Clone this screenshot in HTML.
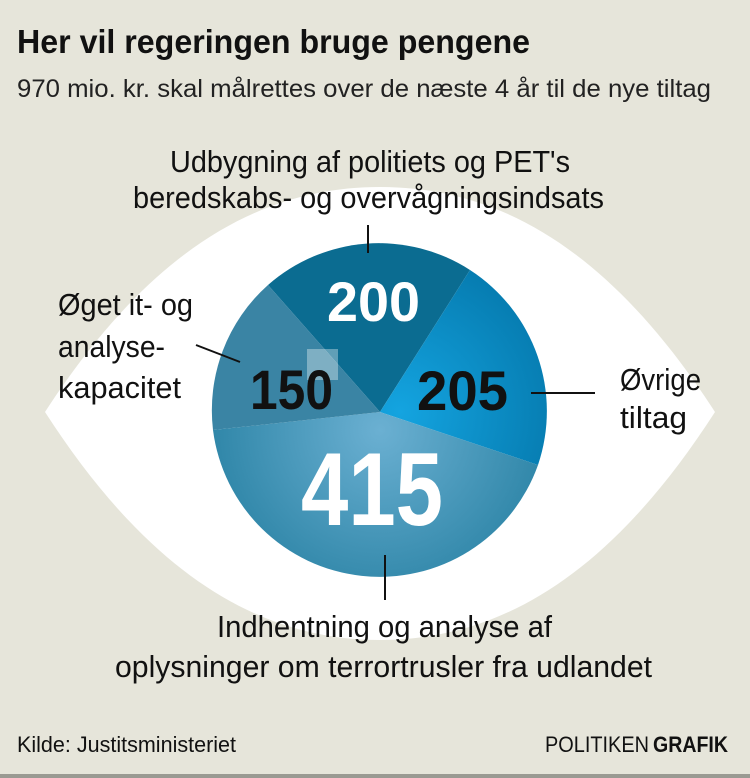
<!DOCTYPE html>
<html><head><meta charset="utf-8"><style>
html,body{margin:0;padding:0;background:#e6e5da;}
svg{display:block}
text{font-family:"Liberation Sans",sans-serif;}
</style></head><body>
<svg width="750" height="778" viewBox="0 0 750 778" xmlns="http://www.w3.org/2000/svg">
<defs>
<radialGradient id="g415" cx="380" cy="430" r="170" gradientUnits="userSpaceOnUse">
<stop offset="0" stop-color="#6bb0d2"/><stop offset="1" stop-color="#2f86a8"/></radialGradient>
<radialGradient id="g205" cx="400" cy="412" r="170" gradientUnits="userSpaceOnUse">
<stop offset="0" stop-color="#14a4e0"/><stop offset="1" stop-color="#0579ad"/></radialGradient>
</defs>
<rect width="750" height="778" fill="#e6e5da"/>
<rect x="0" y="774" width="750" height="4" fill="#9a9a92"/>
<path d="M45,412 C150,250 260,187 380,187 C500,187 610,250 715,412 C610,575 500,640 380,640 C260,640 150,575 45,412 Z" fill="#ffffff"/>
<path d="M380,412 L268,285 A168,168 0 0 1 470,270 Z" fill="#0b6c91"/>
<path d="M380,412 L470,270 A168,168 0 0 1 538,465 Z" fill="url(#g205)"/>
<path d="M380,412 L538,465 A168,168 0 0 1 213,430 Z" fill="url(#g415)"/>
<path d="M380,412 L213,430 A168,168 0 0 1 268,285 Z" fill="#3a84a4"/>
<rect x="307" y="349" width="31" height="31" fill="#ffffff" opacity="0.35"/>
<text x="17" y="53" font-size="33" font-weight="bold" fill="#111" textLength="513" lengthAdjust="spacingAndGlyphs">Her vil regeringen bruge pengene</text>
<text x="17" y="97" font-size="25" fill="#222" textLength="694" lengthAdjust="spacingAndGlyphs">970 mio. kr. skal målrettes over de næste 4 år til de nye tiltag</text>
<g font-size="31" fill="#111">
<text x="170" y="172" textLength="400" lengthAdjust="spacingAndGlyphs">Udbygning af politiets og PET's</text>
<text x="133" y="208" textLength="471" lengthAdjust="spacingAndGlyphs">beredskabs- og overvågningsindsats</text>
<text x="58" y="315" textLength="135" lengthAdjust="spacingAndGlyphs">Øget it- og</text>
<text x="58" y="357" textLength="107" lengthAdjust="spacingAndGlyphs">analyse-</text>
<text x="58" y="398" textLength="123" lengthAdjust="spacingAndGlyphs">kapacitet</text>
<text x="620" y="390" textLength="81" lengthAdjust="spacingAndGlyphs">Øvrige</text>
<text x="620" y="428" textLength="67" lengthAdjust="spacingAndGlyphs">tiltag</text>
<text x="217" y="637" textLength="335" lengthAdjust="spacingAndGlyphs">Indhentning og analyse af</text>
<text x="115" y="677" textLength="537" lengthAdjust="spacingAndGlyphs">oplysninger om terrortrusler fra udlandet</text>
</g>
<g stroke="#111" stroke-width="2">
<line x1="368" y1="225" x2="368" y2="253"/>
<line x1="196" y1="345" x2="240" y2="362"/>
<line x1="531" y1="393" x2="595" y2="393"/>
<line x1="385" y1="555" x2="385" y2="600"/>
</g>
<g font-weight="bold">
<text x="327" y="321" font-size="56" fill="#fff" textLength="93" lengthAdjust="spacingAndGlyphs">200</text>
<text x="250" y="409" font-size="56" fill="#111" textLength="83" lengthAdjust="spacingAndGlyphs">150</text>
<text x="417" y="410" font-size="56" fill="#111" textLength="91" lengthAdjust="spacingAndGlyphs">205</text>
<text x="301" y="525" font-size="104" fill="#fff" textLength="142" lengthAdjust="spacingAndGlyphs">415</text>
</g>
<text x="17" y="752" font-size="22" fill="#111" textLength="219" lengthAdjust="spacingAndGlyphs">Kilde: Justitsministeriet</text>
<text x="545" y="752" font-size="22" fill="#111" textLength="104" lengthAdjust="spacingAndGlyphs">POLITIKEN</text>
<text x="653" y="752" font-size="22" font-weight="bold" fill="#111" textLength="75" lengthAdjust="spacingAndGlyphs">GRAFIK</text>
</svg>
</body></html>
